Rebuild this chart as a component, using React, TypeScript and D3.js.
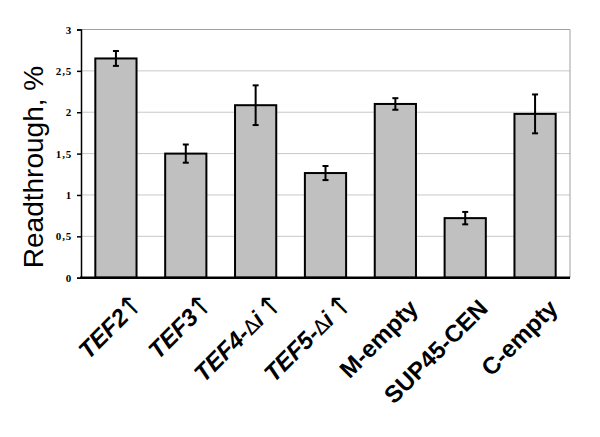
import * as d3 from "d3";
import { useEffect, useRef } from "react";

const categories = ["TEF2", "TEF3", "TEF4", "TEF5", "M-empty", "SUP45-CEN", "C-empty"];
const values = [2.65, 1.5, 2.085, 1.265, 2.1, 0.72, 1.98];
const errors = [0.09, 0.11, 0.24, 0.085, 0.07, 0.075, 0.235];
const yTicks = [0, 0.5, 1, 1.5, 2, 2.5, 3];
// labels for overexpressed genes carry an up arrow
const arrowed = ["TEF2", "TEF3", "TEF4", "TEF5"];
const deltaI = ["TEF4", "TEF5"];

const width = 600;
const height = 437;
const margin = { top: 29.5, right: 30, bottom: 159.3, left: 81 };

export default function App() {
  const svgRef = useRef<SVGSVGElement>(null);

  useEffect(() => {
    if (!svgRef.current) return;
    const svg = d3.select(svgRef.current);
    svg.selectAll("*").remove();

    const innerWidth = width - margin.left - margin.right;
    const innerHeight = height - margin.top - margin.bottom;

    const g = svg
      .append("g")
      .attr("transform", `translate(${margin.left},${margin.top})`);

    const x = d3
      .scaleBand()
      .domain(categories)
      .range([0, innerWidth])
      .paddingInner(0.41)
      .paddingOuter(0.205);

    const y = d3.scaleLinear().domain([0, 3]).range([innerHeight, 0]);

    // grid lines
    g.append("g")
      .selectAll("line")
      .data(yTicks.slice(1))
      .enter()
      .append("line")
      .attr("x1", 0)
      .attr("x2", innerWidth)
      .attr("y1", (d) => y(d))
      .attr("y2", (d) => y(d))
      .style("stroke", "#c8c8c8")
      .style("stroke-width", 1);

    // plot frame (top / right)
    g.append("path")
      .attr("d", `M0,0H${innerWidth}V${innerHeight}`)
      .style("fill", "none")
      .style("stroke", "#a0a0a0")
      .style("stroke-width", 1);

    // bars
    g.selectAll(".bar")
      .data(values)
      .enter()
      .append("rect")
      .attr("class", "bar")
      .attr("x", (_, i) => x(categories[i])!)
      .attr("y", (d) => y(d))
      .attr("width", x.bandwidth())
      .attr("height", (d) => innerHeight - y(d))
      .style("fill", "#c0c0c0")
      .style("stroke", "#000")
      .style("stroke-width", 2);

    // error bars
    const eb = g
      .selectAll(".err")
      .data(values)
      .enter()
      .append("g")
      .attr("class", "err")
      .attr(
        "transform",
        (_, i) => `translate(${x(categories[i])! + x.bandwidth() / 2},0)`,
      );
    eb.append("line")
      .attr("y1", (d, i) => y(d + errors[i]))
      .attr("y2", (d, i) => y(d - errors[i]))
      .style("stroke", "#000")
      .style("stroke-width", 2);
    [1, -1].forEach((s) => {
      eb.append("line")
        .attr("x1", -3)
        .attr("x2", 3)
        .attr("y1", (d, i) => y(d + s * errors[i]))
        .attr("y2", (d, i) => y(d + s * errors[i]))
        .style("stroke", "#000")
        .style("stroke-width", 2);
    });

    // y axis
    const yAxis = d3
      .axisLeft(y)
      .tickValues(yTicks)
      .tickSize(4)
      .tickPadding(5)
      .tickFormat((d) => d3.format("")(d as number).replace(".", ","));
    const ya = g.append("g").call(yAxis);
    ya.select(".domain").style("stroke", "#000").style("stroke-width", 1.5);
    ya.selectAll(".tick line").style("stroke", "#000").style("stroke-width", 1.5);
    ya.selectAll("text")
      .style("font-family", "'Liberation Serif', 'Times New Roman', serif")
      .style("font-weight", "bold")
      .style("font-size", "11px")
      .style("letter-spacing", "0.8px")
      .style("fill", "#000");

    // x axis line
    g.append("line")
      .attr("x1", -1)
      .attr("x2", innerWidth)
      .attr("y1", innerHeight)
      .attr("y2", innerHeight)
      .style("stroke", "#000")
      .style("stroke-width", 2.5);

    // x labels
    const labelFont = "Arial, 'Liberation Sans', sans-serif";
    categories.forEach((c) => {
      const cx = x(c)! + x.bandwidth() / 2;
      const hasArrow = arrowed.includes(c);
      const [dx, dy] = deltaI.includes(c) ? [10, 44] : hasArrow ? [14, 41] : [24, 32];
      const t = g
        .append("text")
        .attr("transform", `translate(${cx + dx},${innerHeight + dy}) rotate(-45)`)
        .attr("text-anchor", "end")
        .style("font-family", labelFont)
        .style("font-size", "24px")
        .style("font-weight", "bold")
        .style("fill", "#000");
      if (deltaI.includes(c)) {
        t.append("tspan").style("font-style", "italic").text(`${c}-`);
        t.append("tspan")
          .style("font-weight", "normal")
          .style("font-family", "'DejaVu Sans', sans-serif")
          .style("font-size", "20px")
          .text("\u0394");
        t.append("tspan").style("font-style", "italic").text("i");
      } else if (hasArrow) {
        t.append("tspan").style("font-style", "italic").text(c);
      } else {
        t.text(c);
      }
      if (hasArrow) {
        g.append("text")
          .attr("transform", `translate(${cx + 21},${innerHeight + 35}) rotate(-45)`)
          .attr("text-anchor", "middle")
          .style("font-family", "'DejaVu Sans', sans-serif")
          .style("font-size", "28px")
          .style("fill", "#000")
          .text("\u2191");
      }
    });

    // y title
    svg
      .append("text")
      .attr("transform", `translate(43,167) rotate(-90)`)
      .attr("text-anchor", "middle")
      .style("font-family", labelFont)
      .style("font-size", "28px")
      .style("fill", "#000")
      .text("Readthrough, %");
  }, []);

  return (
    <svg
      ref={svgRef}
      width={width}
      height={height}
      style={{ position: "absolute", left: 0, top: 0, background: "#fff" }}
    />
  );
}
